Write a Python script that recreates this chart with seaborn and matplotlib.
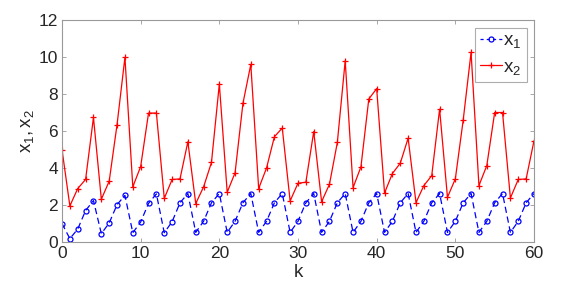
import numpy as np
import pandas as pd
import seaborn as sns
import matplotlib
matplotlib.use("Agg")
import matplotlib.pyplot as plt

k = list(range(61))
x1 = [1.0, 0.18, 0.70, 1.70, 2.24, 0.45, 1.03, 2.02, 2.52, 0.50, 1.08, 2.09, 2.60,
      0.50, 1.10, 2.12, 2.62, 0.52, 1.12, 2.12, 2.62, 0.52, 1.12, 2.12, 2.62,
      0.52, 1.12, 2.12, 2.62, 0.52, 1.12, 2.12, 2.62, 0.52, 1.12, 2.12, 2.62,
      0.52, 1.12, 2.12, 2.62, 0.52, 1.12, 2.12, 2.62, 0.52, 1.12, 2.12, 2.62,
      0.52, 1.12, 2.12, 2.62, 0.52, 1.12, 2.12, 2.62, 0.52, 1.12, 2.12, 2.62]
x2 = [5.0, 1.95, 2.89, 3.38, 6.73, 2.31, 3.29, 6.35, 9.98, 2.98, 4.08, 6.97, 6.97,
      2.36, 3.38, 3.41, 5.42, 2.08, 2.98, 4.30, 8.54, 2.69, 3.74, 7.49, 9.60,
      2.89, 4.00, 5.69, 6.16, 2.22, 3.18, 3.23, 5.97, 2.18, 3.12, 5.38, 9.80,
      2.94, 4.06, 7.73, 8.29, 2.65, 3.70, 4.26, 5.61, 2.13, 3.05, 3.59, 7.18,
      2.42, 3.41, 6.59, 10.25, 3.05, 4.13, 7.00, 7.00, 2.38, 3.38, 3.41, 5.47]
xticks = [0, 10, 20, 30, 40, 50, 60]
yticks = [0, 2, 4, 6, 8, 10, 12]

df = pd.DataFrame({"k": k, "x1": x1, "x2": x2})

sns.set_theme(style="white")
plt.rcParams["font.family"] = ["Liberation Sans", "DejaVu Sans"]
plt.rcParams["mathtext.fontset"] = "custom"
plt.rcParams["mathtext.rm"] = "Liberation Sans"
plt.rcParams["mathtext.it"] = "Liberation Sans"

fig = plt.figure(figsize=(5.63, 2.88), dpi=100)
ax = fig.add_axes([62/563, 1 - 242/288, (534 - 62)/563, (242 - 20)/288])

sns.lineplot(data=df, x="k", y="x1", ax=ax, color="#0000ff",
             linewidth=0.9, marker="o", markersize=3.6, markerfacecolor="none",
             markeredgecolor="#0000ff", markeredgewidth=0.9,
             label=r"$\mathregular{x_1}$")
sns.lineplot(data=df, x="k", y="x2", ax=ax, color="#ff0000",
             linewidth=0.9, marker="+", markersize=4, markeredgewidth=0.9,
             markeredgecolor="#ff0000", label=r"$\mathregular{x_2}$")

lines = ax.get_lines()
lines[0].set_linestyle((0, (5, 3)))
lines[1].set_linestyle("-")

ax.set_xlim(0, 60)
ax.set_ylim(0, 12)
ax.set_xticks(xticks)
ax.set_yticks(yticks)
ax.tick_params(axis="both", direction="in", length=3, width=0.6, colors="#999999",
               labelcolor="#262626", labelsize=12.5, top=True, right=True,
               bottom=True, left=True, pad=3)
for s in ax.spines.values():
    s.set_color("#999999")
    s.set_linewidth(0.8)
ax.set_xlabel("k", fontsize=13.5, color="#262626", labelpad=2)
ax.set_ylabel(r"$\mathregular{x_1,x_2}$", fontsize=13.5, color="#262626", labelpad=2)

leg = ax.legend(handles=lines, loc="upper right", fontsize=13.5, frameon=True,
                fancybox=False, handlelength=1.15, handletextpad=0.1,
                borderpad=0.25, labelspacing=0.45, borderaxespad=0.4)
leg.get_frame().set_edgecolor("#999999")
leg.get_frame().set_linewidth(0.8)
leg.get_lines()[0].set_linestyle((0, (2.5, 2.5)))

fig.savefig("out.png", dpi=100)
